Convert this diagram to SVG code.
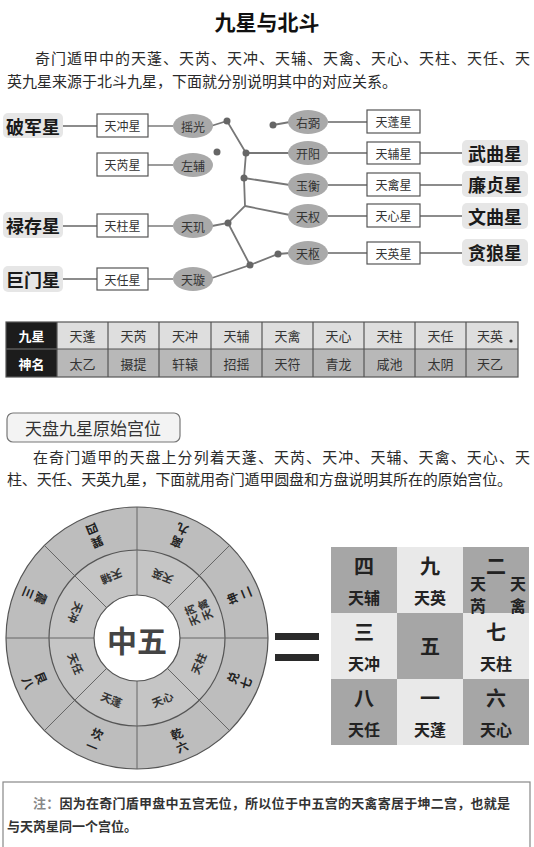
<svg xmlns="http://www.w3.org/2000/svg" width="534" height="847" viewBox="0 0 534 847">
<style>
text{font-family:"Noto Sans CJK SC","Noto Sans",sans-serif;fill:#222;}
.c{text-anchor:middle;dominant-baseline:central;}
.p{font-size:15px;dominant-baseline:central;fill:#2a2a2a;}
.big{font-size:18px;font-weight:700;fill:#1a1a1a;}
.lab{fill:#e6e6e6;}
.box{fill:#fff;stroke:#555;stroke-width:1.2;}
.bt{font-size:12px;fill:#333;}
.ell{fill:#a9a9a9;}
.et{font-size:12px;fill:#333;}
.ln{stroke:#666;stroke-width:1.3;fill:none;}
.cn{stroke:#777;stroke-width:1.8;fill:none;}
.dot{fill:#666;}
.tc{font-size:13px;fill:#333;}
.wo{font-size:12px;font-weight:700;fill:#222;}
.wi{font-size:11px;font-weight:700;fill:#333;}
.gn{font-size:20px;font-weight:700;fill:#222;}
.gs{font-size:16px;font-weight:700;fill:#222;}
.dk{fill:#a6a6a6;}
.lt{fill:#e9e9e9;}
.nt{font-size:13px;font-weight:700;fill:#333;dominant-baseline:central;}
</style>

<text id="title" class="c" x="267" y="21" style="font-size:21px;font-weight:700;fill:#111">九星与北斗</text>
<g id="para1">
<text class="p" x="35" y="57" textLength="495" lengthAdjust="spacing">奇门遁甲中的天蓬、天芮、天冲、天辅、天禽、天心、天柱、天任、天</text>
<text class="p" x="7" y="80">英九星来源于北斗九星，下面就分别说明其中的对应关系。</text>
</g>

<g id="connectors">
<line class="ln" x1="63" y1="126" x2="97" y2="126"/>
<line class="ln" x1="148" y1="126" x2="173" y2="126"/>
<line class="ln" x1="148" y1="165" x2="173" y2="165"/>
<line class="ln" x1="63" y1="226" x2="97" y2="226"/>
<line class="ln" x1="148" y1="226" x2="173" y2="226"/>
<line class="ln" x1="63" y1="279" x2="97" y2="279"/>
<line class="ln" x1="148" y1="279" x2="173" y2="279"/>
<line class="ln" x1="328" y1="122" x2="367" y2="122"/>
<line class="ln" x1="328" y1="153" x2="367" y2="153"/>
<line class="ln" x1="420" y1="153" x2="462" y2="153"/>
<line class="ln" x1="328" y1="185" x2="367" y2="185"/>
<line class="ln" x1="420" y1="185" x2="462" y2="185"/>
<line class="ln" x1="328" y1="216" x2="367" y2="216"/>
<line class="ln" x1="420" y1="216" x2="462" y2="216"/>
<line class="ln" x1="328" y1="253" x2="367" y2="253"/>
<line class="ln" x1="420" y1="253" x2="462" y2="253"/>
<polyline class="cn" points="211,126 227,121 246,153 244,178 245,206 228,223 212,226"/>
<line class="cn" x1="246" y1="153" x2="290" y2="153"/>
<line class="cn" x1="244" y1="178" x2="290" y2="185"/>
<line class="cn" x1="245" y1="206" x2="290" y2="215"/>
<polyline class="cn" points="228,223 250,265 212,278"/>
<polyline class="cn" points="250,265 278,254 290,253"/>
<line class="cn" x1="273" y1="125" x2="290" y2="122"/>
<circle class="dot" cx="227" cy="121" r="3.5"/>
<circle class="dot" cx="246" cy="153" r="3.5"/>
<circle class="dot" cx="244" cy="178" r="3.5"/>
<circle class="dot" cx="228" cy="223" r="3.5"/>
<circle class="dot" cx="250" cy="265" r="3.5"/>
<circle class="dot" cx="278" cy="254" r="3.5"/>
<circle class="dot" cx="273" cy="125" r="3.5"/>
<circle class="dot" cx="217" cy="152" r="3.5"/>
</g>

<g id="pojun"><rect class="lab" x="3" y="113" width="60" height="25" rx="5"/><text class="c big" x="33" y="126">破军星</text></g>
<g id="lucun"><rect class="lab" x="3" y="212" width="60" height="26" rx="5"/><text class="c big" x="33" y="225">禄存星</text></g>
<g id="jumen"><rect class="lab" x="3" y="266" width="60" height="26" rx="5"/><text class="c big" x="33" y="279">巨门星</text></g>
<g id="wuqu"><rect class="lab" x="462" y="140" width="66" height="26" rx="5"/><text class="c big" x="495" y="153">武曲星</text></g>
<g id="lianzhen"><rect class="lab" x="462" y="171" width="66" height="26" rx="5"/><text class="c big" x="495" y="184">廉贞星</text></g>
<g id="wenqu"><rect class="lab" x="462" y="203" width="66" height="26" rx="5"/><text class="c big" x="495" y="216">文曲星</text></g>
<g id="tanlang"><rect class="lab" x="462" y="239" width="66" height="27" rx="5"/><text class="c big" x="495" y="252">贪狼星</text></g>

<g id="b-tianchong"><rect class="box" x="97" y="114" width="51" height="23"/><text class="c bt" x="122.5" y="125.5">天冲星</text></g>
<g id="b-tianrui"><rect class="box" x="97" y="153" width="51" height="23"/><text class="c bt" x="122.5" y="164.5">天芮星</text></g>
<g id="b-tianzhu"><rect class="box" x="97" y="214" width="51" height="23"/><text class="c bt" x="122.5" y="225.5">天柱星</text></g>
<g id="b-tianren"><rect class="box" x="97" y="268" width="51" height="22"/><text class="c bt" x="122.5" y="279">天任星</text></g>
<g id="b-tianpeng"><rect class="box" x="367" y="110" width="53" height="23"/><text class="c bt" x="393.5" y="121.5">天蓬星</text></g>
<g id="b-tianfu"><rect class="box" x="367" y="142" width="53" height="22"/><text class="c bt" x="393.5" y="153">天辅星</text></g>
<g id="b-tianqin"><rect class="box" x="367" y="173" width="53" height="23"/><text class="c bt" x="393.5" y="184.5">天禽星</text></g>
<g id="b-tianxin"><rect class="box" x="367" y="204" width="53" height="23"/><text class="c bt" x="393.5" y="215.5">天心星</text></g>
<g id="b-tianying"><rect class="box" x="367" y="242" width="53" height="22"/><text class="c bt" x="393.5" y="253">天英星</text></g>

<g id="e-yaoguang"><ellipse class="ell" cx="193" cy="126" rx="20" ry="12"/><text class="c et" x="193" y="126">摇光</text></g>
<g id="e-zuofu"><ellipse class="ell" cx="193" cy="165" rx="20" ry="12"/><text class="c et" x="193" y="165">左辅</text></g>
<g id="e-tianji"><ellipse class="ell" cx="193" cy="226" rx="20" ry="12"/><text class="c et" x="193" y="226">天玑</text></g>
<g id="e-tianxuan"><ellipse class="ell" cx="193" cy="279" rx="20" ry="12"/><text class="c et" x="193" y="279">天璇</text></g>
<g id="e-youbi"><ellipse class="ell" cx="308" cy="122" rx="20" ry="12"/><text class="c et" x="308" y="122">右弼</text></g>
<g id="e-kaiyang"><ellipse class="ell" cx="308" cy="153" rx="20" ry="12"/><text class="c et" x="308" y="153">开阳</text></g>
<g id="e-yuheng"><ellipse class="ell" cx="308" cy="185" rx="20" ry="12"/><text class="c et" x="308" y="185">玉衡</text></g>
<g id="e-tianquan"><ellipse class="ell" cx="308" cy="216" rx="20" ry="12"/><text class="c et" x="308" y="216">天权</text></g>
<g id="e-tianshu"><ellipse class="ell" cx="308" cy="253" rx="20" ry="12"/><text class="c et" x="308" y="253">天枢</text></g>

<g id="table">
<rect x="6" y="322" width="512" height="27" fill="#dedede"/>
<rect x="6" y="349" width="512" height="28" fill="#b8b8b8"/>
<rect x="6" y="322" width="51" height="55" fill="#1c1c1c"/>
<line x1="6" y1="349" x2="57" y2="349" stroke="#777" stroke-width="1"/>
<g stroke="#555" stroke-width="1.2" fill="none">
<rect x="6" y="322" width="512" height="55"/>
<line x1="57" y1="349" x2="518" y2="349"/>
<line x1="57" y1="322" x2="57" y2="377"/><line x1="108" y1="322" x2="108" y2="377"/><line x1="159" y1="322" x2="159" y2="377"/><line x1="211" y1="322" x2="211" y2="377"/><line x1="262" y1="322" x2="262" y2="377"/><line x1="313" y1="322" x2="313" y2="377"/><line x1="364" y1="322" x2="364" y2="377"/><line x1="415" y1="322" x2="415" y2="377"/><line x1="466" y1="322" x2="466" y2="377"/>
</g>
<text class="c tc" x="31.5" y="335.5" style="fill:#fff;font-weight:700">九星</text>
<text class="c tc" x="31.5" y="363" style="fill:#fff;font-weight:700">神名</text>
<g class="row1">
<text class="c tc" x="82.5" y="335.5">天蓬</text><text class="c tc" x="133.5" y="335.5">天芮</text><text class="c tc" x="185" y="335.5">天冲</text><text class="c tc" x="236.5" y="335.5">天辅</text><text class="c tc" x="287.5" y="335.5">天禽</text><text class="c tc" x="338.5" y="335.5">天心</text><text class="c tc" x="389.5" y="335.5">天柱</text><text class="c tc" x="440.5" y="335.5">天任</text><text class="c tc" x="490" y="335.5">天英</text>
</g>
<circle cx="511" cy="341" r="1.6" fill="#333"/>
<g class="row2">
<text class="c tc" x="82.5" y="363">太乙</text><text class="c tc" x="133.5" y="363">摄提</text><text class="c tc" x="185" y="363">轩辕</text><text class="c tc" x="236.5" y="363">招摇</text><text class="c tc" x="287.5" y="363">天符</text><text class="c tc" x="338.5" y="363">青龙</text><text class="c tc" x="389.5" y="363">咸池</text><text class="c tc" x="440.5" y="363">太阴</text><text class="c tc" x="490" y="363">天乙</text>
</g>
</g>

<g id="section2">
<rect x="7" y="413" width="173" height="29" rx="6" fill="#f3f3f3" stroke="#777" stroke-width="1.2"/>
<text class="c" x="93" y="427.5" style="font-size:17px;fill:#333">天盘九星原始宫位</text>
</g>
<g id="para2">
<text class="p" x="33" y="456" textLength="497" lengthAdjust="spacing">在奇门遁甲的天盘上分列着天蓬、天芮、天冲、天辅、天禽、天心、天</text>
<text class="p" x="7" y="478" textLength="505" lengthAdjust="spacing">柱、天任、天英九星，下面就用奇门遁甲圆盘和方盘说明其所在的原始宫位。</text>
</g>

<g id="wheel">
<circle cx="137" cy="638" r="131" fill="#bdbdbd" stroke="#555" stroke-width="1.2"/>
<circle cx="137" cy="638" r="88" fill="#c5c5c5" stroke="#555" stroke-width="1.2"/>
<g stroke="#666" stroke-width="1">
<line x1="137" y1="507" x2="137" y2="769"/>
<line x1="6" y1="638" x2="268" y2="638"/>
<line x1="44.4" y1="545.4" x2="229.6" y2="730.6"/>
<line x1="229.6" y1="545.4" x2="44.4" y2="730.6"/>
</g>
<circle cx="137" cy="638" r="43" fill="#fff" stroke="#555" stroke-width="1.2"/>
<text class="c" x="137" y="639" style="font-size:30px;font-weight:700;fill:#444">中五</text>
<g transform="rotate(22.5 137 638)"><text class="c wo" x="137" y="741">坎</text><text class="c wo" x="137" y="755">一</text><text class="c wi" x="137" y="704">天蓬</text></g>
<g transform="rotate(67.5 137 638)"><text class="c wo" x="137" y="741">艮</text><text class="c wo" x="137" y="755">八</text><text class="c wi" x="137" y="704">天任</text></g>
<g transform="rotate(112.5 137 638)"><text class="c wo" x="137" y="741">震</text><text class="c wo" x="137" y="755">三</text><text class="c wi" x="137" y="704">天冲</text></g>
<g transform="rotate(157.5 137 638)"><text class="c wo" x="137" y="741">巽</text><text class="c wo" x="137" y="755">四</text><text class="c wi" x="137" y="704">天辅</text></g>
<g transform="rotate(-157.5 137 638)"><text class="c wo" x="137" y="741">离</text><text class="c wo" x="137" y="755">九</text><text class="c wi" x="137" y="704">天英</text></g>
<g transform="rotate(-112.5 137 638)"><text class="c wo" x="137" y="741">坤</text><text class="c wo" x="137" y="755">二</text><text class="c wi" x="137" y="697">天芮</text><text class="c wi" x="137" y="711">天禽</text></g>
<g transform="rotate(-67.5 137 638)"><text class="c wo" x="137" y="741">兑</text><text class="c wo" x="137" y="755">七</text><text class="c wi" x="137" y="704">天柱</text></g>
<g transform="rotate(-22.5 137 638)"><text class="c wo" x="137" y="741">乾</text><text class="c wo" x="137" y="755">六</text><text class="c wi" x="137" y="704">天心</text></g>
</g>

<g id="equals" fill="#2a2a2a">
<rect x="275" y="633" width="44" height="7"/>
<rect x="275" y="654" width="44" height="7"/>
</g>

<g id="grid">
<rect class="dk" x="331" y="547" width="66" height="66"/><rect class="lt" x="397" y="547" width="66" height="66"/><rect class="dk" x="463" y="547" width="66" height="66"/>
<rect class="lt" x="331" y="613" width="66" height="66"/><rect class="dk" x="397" y="613" width="66" height="66"/><rect class="lt" x="463" y="613" width="66" height="66"/>
<rect class="dk" x="331" y="679" width="66" height="66"/><rect class="lt" x="397" y="679" width="66" height="66"/><rect class="dk" x="463" y="679" width="66" height="66"/>
<text class="c gn" x="364" y="565">四</text><text class="c gs" x="364" y="597">天辅</text>
<text class="c gn" x="430" y="565">九</text><text class="c gs" x="430" y="597">天英</text>
<text class="c gn" x="496" y="565">二</text><text class="c gs" x="478" y="583">天</text><text class="c gs" x="518" y="583">天</text><text class="c gs" x="478" y="605">芮</text><text class="c gs" x="518" y="605">禽</text>
<text class="c gn" x="364" y="631">三</text><text class="c gs" x="364" y="663">天冲</text>
<text class="c gn" x="430" y="645">五</text>
<text class="c gn" x="496" y="631">七</text><text class="c gs" x="496" y="663">天柱</text>
<text class="c gn" x="364" y="697">八</text><text class="c gs" x="364" y="729">天任</text>
<text class="c gn" x="430" y="697">一</text><text class="c gs" x="430" y="729">天蓬</text>
<text class="c gn" x="496" y="697">六</text><text class="c gs" x="496" y="729">天心</text>
</g>

<g id="note">
<rect x="3" y="782" width="527" height="80" fill="none" stroke="#888" stroke-width="1.2"/>
<text class="nt" x="33" y="802" textLength="477" lengthAdjust="spacing"><tspan style="fill:#888">注：</tspan>因为在奇门盾甲盘中五宫无位，所以位于中五宫的天禽寄居于坤二宫，也就是</text>
<text class="nt" x="7" y="825">与天芮星同一个宫位。</text>
</g>
</svg>
